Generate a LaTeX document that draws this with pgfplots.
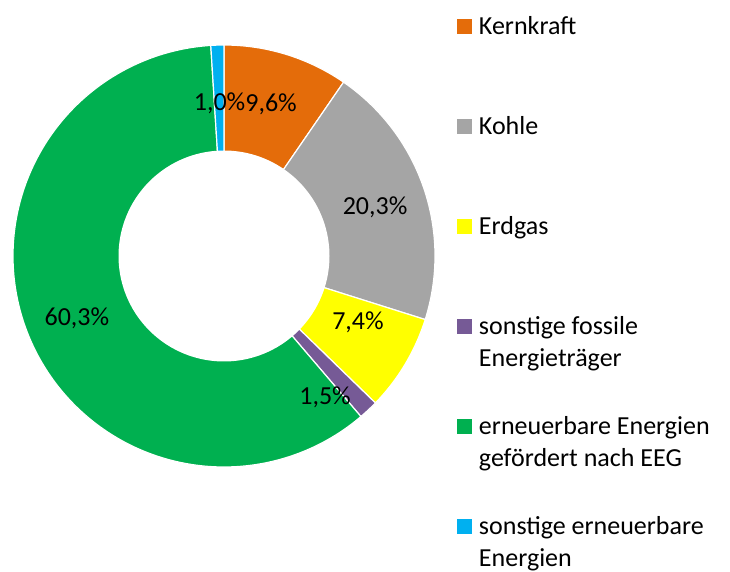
\documentclass[border=0pt]{standalone}
\usepackage{pgfplots}
\pgfplotsset{compat=1.18}
\usepackage{fontspec}
\setmainfont{Carlito}
\definecolor{ckern}{HTML}{E46C0A}
\definecolor{ckohle}{HTML}{A5A5A5}
\definecolor{cgas}{HTML}{FFFF00}
\definecolor{cfoss}{HTML}{765A96}
\definecolor{ceeg}{HTML}{00B050}
\definecolor{cren}{HTML}{00B0F0}
\newcommand\bigfont{\fontsize{26bp}{32bp}\selectfont}
\newcommand\two[2]{\vtop{\hbox{#1}\hbox{#2}}}
\begin{document}
\begin{tikzpicture}
\useasboundingbox (0,0) rectangle (730bp,572bp);
% shares in percent
\def\vA{9.6}\def\vB{20.3}\def\vC{7.4}\def\vD{1.5}\def\vE{60.3}\def\vF{1.0}
\pgfmathsetmacro\tot{\vA+\vB+\vC+\vD+\vE+\vF}
\pgfmathsetmacro\dpp{360/\tot}
\pgfmathsetmacro\angA{90}
\pgfmathsetmacro\angB{\angA-\dpp*\vA}
\pgfmathsetmacro\angC{\angB-\dpp*\vB}
\pgfmathsetmacro\angD{\angC-\dpp*\vC}
\pgfmathsetmacro\angE{\angD-\dpp*\vD}
\pgfmathsetmacro\angF{\angE-\dpp*\vE}
\pgfmathsetmacro\angG{\angF-\dpp*\vF}
\begin{axis}[
  hide axis, scale only axis, width=422bp, height=422bp,
  xmin=-1, xmax=1, ymin=-1, ymax=1,
  at={(224bp,316bp)}, anchor=center, clip=false,
  legend image code/.code={\fill[#1, draw=none] (0bp,0bp) rectangle (15bp,15bp);},
  legend cell align=left,
  legend style={draw=none, fill=none, inner sep=0pt, outer sep=0pt,
    at={(1.0521,1.0687)}, anchor=north west, column sep=7bp, row sep=0pt,
    font=\bigfont, cells={anchor=base west},
    nodes={inner sep=0pt, outer sep=0pt, text height=18bp, text depth=82bp}},
]
\addplot[fill=ckern, draw=white, line width=1.2bp, domain=\angB:\angA, samples=60, variable=\t] ({cos(\t)},{sin(\t)}) -- (axis cs:0,0) -- cycle;
\addlegendentry{Kernkraft}
\addplot[fill=ckohle, draw=white, line width=1.2bp, domain=\angC:\angB, samples=80, variable=\t] ({cos(\t)},{sin(\t)}) -- (axis cs:0,0) -- cycle;
\addlegendentry{Kohle}
\addplot[fill=cgas, draw=white, line width=1.2bp, domain=\angD:\angC, samples=40, variable=\t] ({cos(\t)},{sin(\t)}) -- (axis cs:0,0) -- cycle;
\addlegendentry{Erdgas}
\addplot[fill=cfoss, draw=white, line width=1.2bp, domain=\angE:\angD, samples=10, variable=\t] ({cos(\t)},{sin(\t)}) -- (axis cs:0,0) -- cycle;
\addlegendentry{\two{sonstige fossile}{Energieträger}}
\addplot[fill=ceeg, draw=white, line width=1.2bp, domain=\angF:\angE, samples=200, variable=\t] ({cos(\t)},{sin(\t)}) -- (axis cs:0,0) -- cycle;
\addlegendentry{\two{erneuerbare Energien}{gefördert nach EEG}}
\addplot[fill=cren, draw=white, line width=1.2bp, domain=\angG:\angF, samples=8, variable=\t] ({cos(\t)},{sin(\t)}) -- (axis cs:0,0) -- cycle;
\addlegendentry{\two{sonstige erneuerbare}{Energien}}
\addplot[fill=white, draw=none, domain=0:360, samples=181, variable=\t, forget plot] ({0.5*cos(\t)},{0.5*sin(\t)});
\node[font=\bigfont] at (axis cs:0.223,0.72) {9,6\%};
\node[font=\bigfont] at (axis cs:-0.021,0.725) {1,0\%};
\node[font=\bigfont] at (axis cs:0.716,0.232) {20,3\%};
\node[font=\bigfont] at (axis cs:0.635,-0.313) {7,4\%};
\node[font=\bigfont] at (axis cs:0.479,-0.668) {1,5\%};
\node[font=\bigfont] at (axis cs:-0.697,-0.294) {60,3\%};
\end{axis}
\end{tikzpicture}
\end{document}
